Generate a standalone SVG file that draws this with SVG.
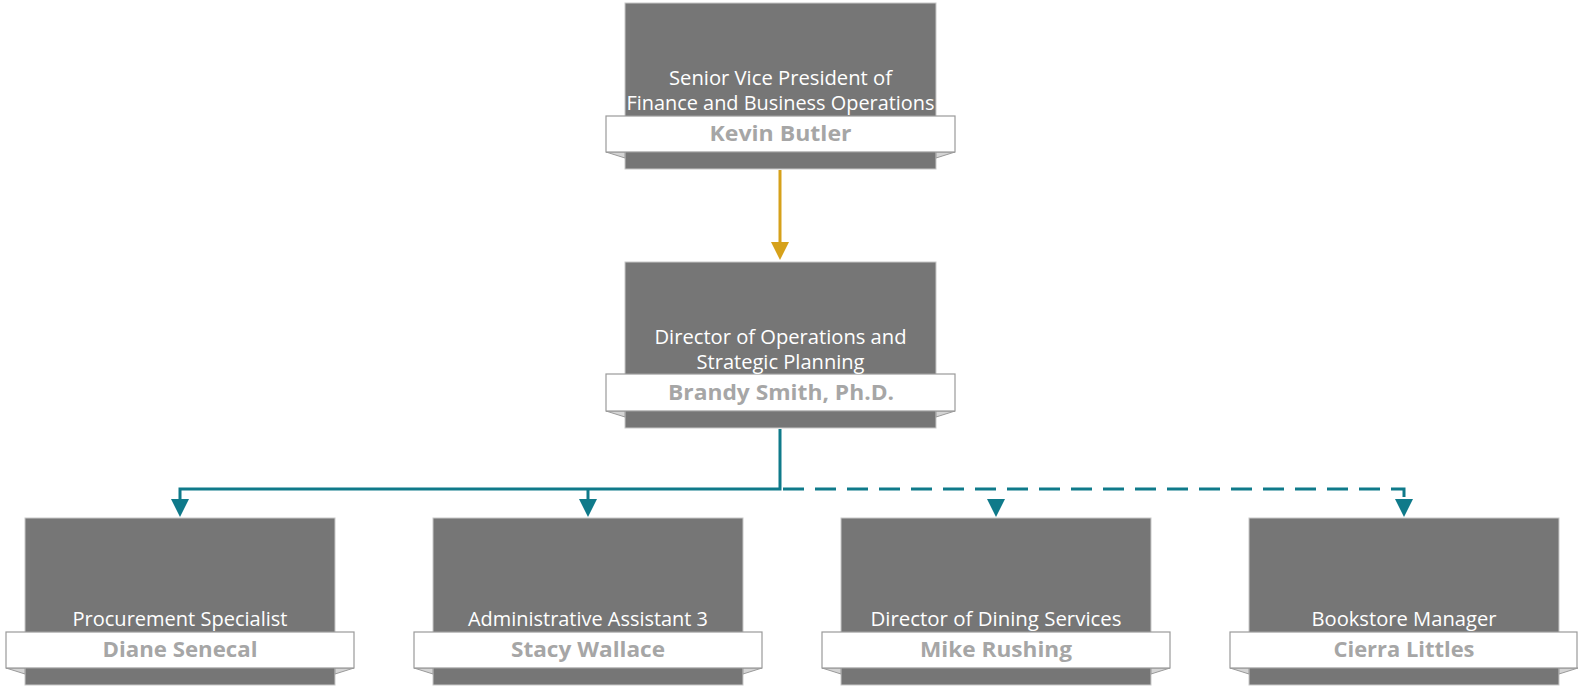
<svg xmlns="http://www.w3.org/2000/svg" width="1578" height="686" viewBox="0 0 1578 686">
<style>
.box{fill:#767676;stroke:#c8c8c8;stroke-width:1}
.ban{fill:#ffffff;stroke:#9a9a9a;stroke-width:1.2}
.fold{fill:#d4d4d4;stroke:#9a9a9a;stroke-width:1}
.t{font-family:"Open Sans","Noto Sans","Liberation Sans",sans-serif;font-size:20px;fill:#ffffff;text-anchor:middle}
.n{font-family:"Open Sans","Noto Sans","Liberation Sans",sans-serif;font-size:21px;font-weight:bold;fill:#a6a6a6;text-anchor:middle}
.teal{fill:none;stroke:#0f7a8a;stroke-width:3}
.gold{fill:none;stroke:#d6a11a;stroke-width:3}
</style>
<rect width="1578" height="686" fill="#ffffff"/>
<g id="connectors">
<path class="gold" d="M780 170 V245"/>
<polygon points="771,242 789,242 780,260" fill="#d6a11a"/>
<path class="teal" d="M780 429 V489 H180 V501"/>
<path class="teal" d="M588 489 V501"/>
<path class="teal" d="M783 489 H1404 V499" stroke-dasharray="21 11"/>
<polygon points="171,499 189,499 180,517" fill="#0f7a8a"/>
<polygon points="579,499 597,499 588,517" fill="#0f7a8a"/>
<polygon points="987,499 1005,499 996,517" fill="#0f7a8a"/>
<polygon points="1395,499 1413,499 1404,517" fill="#0f7a8a"/>
</g>
<g id="node-svp">
<rect class="box" x="625" y="3" width="311" height="166"/>
<polygon class="fold" points="606,152 625,152 625,158"/>
<polygon class="fold" points="955,152 936,152 936,158"/>
<rect class="ban" x="606" y="116" width="349" height="36"/>
<text class="t" x="780.5" y="85" textLength="223" lengthAdjust="spacingAndGlyphs">Senior Vice President of</text>
<text class="t" x="780.5" y="110" textLength="308" lengthAdjust="spacingAndGlyphs">Finance and Business Operations</text>
<text class="n" x="780.5" y="141" textLength="142" lengthAdjust="spacingAndGlyphs">Kevin Butler</text>
</g>
<g id="node-director">
<rect class="box" x="625" y="262" width="311" height="166"/>
<polygon class="fold" points="606,411 625,411 625,417"/>
<polygon class="fold" points="955,411 936,411 936,417"/>
<rect class="ban" x="606" y="374" width="349" height="37"/>
<text class="t" x="780.5" y="344" textLength="252" lengthAdjust="spacingAndGlyphs">Director of Operations and</text>
<text class="t" x="780.5" y="369" textLength="168" lengthAdjust="spacingAndGlyphs">Strategic Planning</text>
<text class="n" x="781" y="400" textLength="226" lengthAdjust="spacingAndGlyphs">Brandy Smith, Ph.D.</text>
</g>
<g id="node-procurement">
<rect class="box" x="25" y="518" width="310" height="167"/>
<polygon class="fold" points="6,668 25,668 25,674"/>
<polygon class="fold" points="354,668 335,668 335,674"/>
<rect class="ban" x="6" y="632" width="348" height="36"/>
<text class="t" x="180" y="626" textLength="215" lengthAdjust="spacingAndGlyphs">Procurement Specialist</text>
<text class="n" x="180" y="657" textLength="155" lengthAdjust="spacingAndGlyphs">Diane Senecal</text>
</g>
<g id="node-admin">
<rect class="box" x="433" y="518" width="310" height="167"/>
<polygon class="fold" points="414,668 433,668 433,674"/>
<polygon class="fold" points="762,668 743,668 743,674"/>
<rect class="ban" x="414" y="632" width="348" height="36"/>
<text class="t" x="588" y="626" textLength="240" lengthAdjust="spacingAndGlyphs">Administrative Assistant 3</text>
<text class="n" x="588" y="657" textLength="154" lengthAdjust="spacingAndGlyphs">Stacy Wallace</text>
</g>
<g id="node-dining">
<rect class="box" x="841" y="518" width="310" height="167"/>
<polygon class="fold" points="822,668 841,668 841,674"/>
<polygon class="fold" points="1170,668 1151,668 1151,674"/>
<rect class="ban" x="822" y="632" width="348" height="36"/>
<text class="t" x="996" y="626" textLength="251" lengthAdjust="spacingAndGlyphs">Director of Dining Services</text>
<text class="n" x="996" y="657" textLength="152" lengthAdjust="spacingAndGlyphs">Mike Rushing</text>
</g>
<g id="node-bookstore">
<rect class="box" x="1249" y="518" width="310" height="167"/>
<polygon class="fold" points="1230,668 1249,668 1249,674"/>
<polygon class="fold" points="1578,668 1559,668 1559,674"/>
<rect class="ban" x="1230" y="632" width="347" height="36"/>
<text class="t" x="1404" y="626" textLength="185" lengthAdjust="spacingAndGlyphs">Bookstore Manager</text>
<text class="n" x="1404" y="657" textLength="141" lengthAdjust="spacingAndGlyphs">Cierra Littles</text>
</g>
</svg>
